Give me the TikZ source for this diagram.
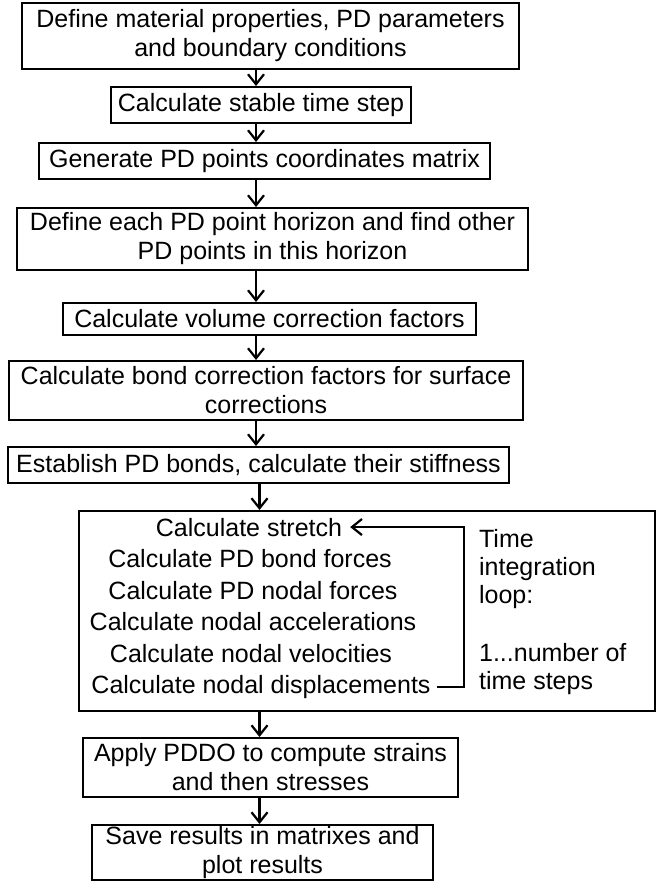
\documentclass[tikz,border=0pt]{standalone}
\usepackage{fontspec}
\setmainfont{Liberation Sans}
\usetikzlibrary{arrows.meta}

\tikzset{
  stepbox/.style={draw, line width=1pt, inner sep=0pt, align=center},
  looptext/.style={inner sep=0pt, anchor=base}
}

\begin{document}
\begin{tikzpicture}[x=0.5pt, y=-0.5pt, line width=1.1pt,
    >={Straight Barb[length=5pt,width=8pt]},
    font=\fontsize{12.5}{14.5}\selectfont]
    \useasboundingbox (0,0) rectangle (657,881);

    \node[stepbox, minimum width=248.5pt, minimum height=33pt] (define) at (270.5,36) {Define material properties, PD parameters\\and boundary conditions};
    \node[stepbox, minimum width=150pt, minimum height=18pt] (timestep) at (261,105) {Calculate stable time step};
    \node[stepbox, minimum width=225.5pt, minimum height=18pt] (coords) at (264.5,161) {Generate PD points coordinates matrix};
    \node[stepbox, minimum width=255.5pt, minimum height=31pt] (horizon) at (272.5,239) {Define each PD point horizon and find other\\PD points in this horizon};
    \node[stepbox, minimum width=206.5pt, minimum height=16pt] (volume) at (269.5,319) {Calculate volume correction factors};
    \node[stepbox, minimum width=257pt, minimum height=29.5pt] (surface) at (266,390.5) {Calculate bond correction factors for surface\\corrections};
    \node[stepbox, minimum width=250.5pt, minimum height=18pt] (bonds) at (258.5,465) {Establish PD bonds, calculate their stiffness};

    \node[stepbox, minimum width=288pt, minimum height=100pt] (loopbox) at (367,611) {};
    \node[looptext] (stretch) at (249,536) {Calculate stretch};
    \node[looptext] (bondf) at (250,567.5) {Calculate PD bond forces};
    \node[looptext] (nodalf) at (253,599) {Calculate PD nodal forces};
    \node[looptext] (accel) at (253,630.5) {Calculate nodal accelerations};
    \node[looptext] (veloc) at (251,662) {Calculate nodal velocities};
    \node[looptext] (displ) at (261,693.5) {Calculate nodal displacements};
    \node[inner sep=0pt, anchor=north west, align=left, font=\fontsize{12.5}{14}\selectfont] (loopnote) at (478,528) {Time\\integration\\loop:\\[15pt]1...number of\\time steps};

    \node[stepbox, minimum width=187.5pt, minimum height=29.5pt] (pddo) at (270.5,767.5) {Apply PDDO to compute strains\\and then stresses};
    \node[stepbox, minimum width=170.5pt, minimum height=27.5pt] (save) at (262.5,852.5) {Save results in matrixes and\\plot results};

    \coordinate (ax) at (256,0);
    \coordinate (bx) at (259.5,0);
    \coordinate (lx) at (464,0);

    \draw[->] (define.south -| ax) -- (timestep.north -| ax);
    \draw[->] (timestep.south -| ax) -- (coords.north -| ax);
    \draw[->] (coords.south -| ax) -- (horizon.north -| ax);
    \draw[->] (horizon.south -| ax) -- (volume.north -| ax);
    \draw[->] (volume.south -| ax) -- (surface.north -| ax);
    \draw[->] (surface.south -| ax) -- (bonds.north -| ax);
    \draw[->] (bonds.south -| bx) -- (loopbox.north -| bx);

    \draw[->] ([xshift=2.5pt]displ.east) -- (displ.east -| lx) -- (stretch.east -| lx) -- ([xshift=3.5pt]stretch.east);

    \draw[->] (loopbox.south -| bx) -- (pddo.north -| bx);
    \draw[->] (pddo.south -| bx) -- (save.north -| bx);
\end{tikzpicture}
\end{document}
